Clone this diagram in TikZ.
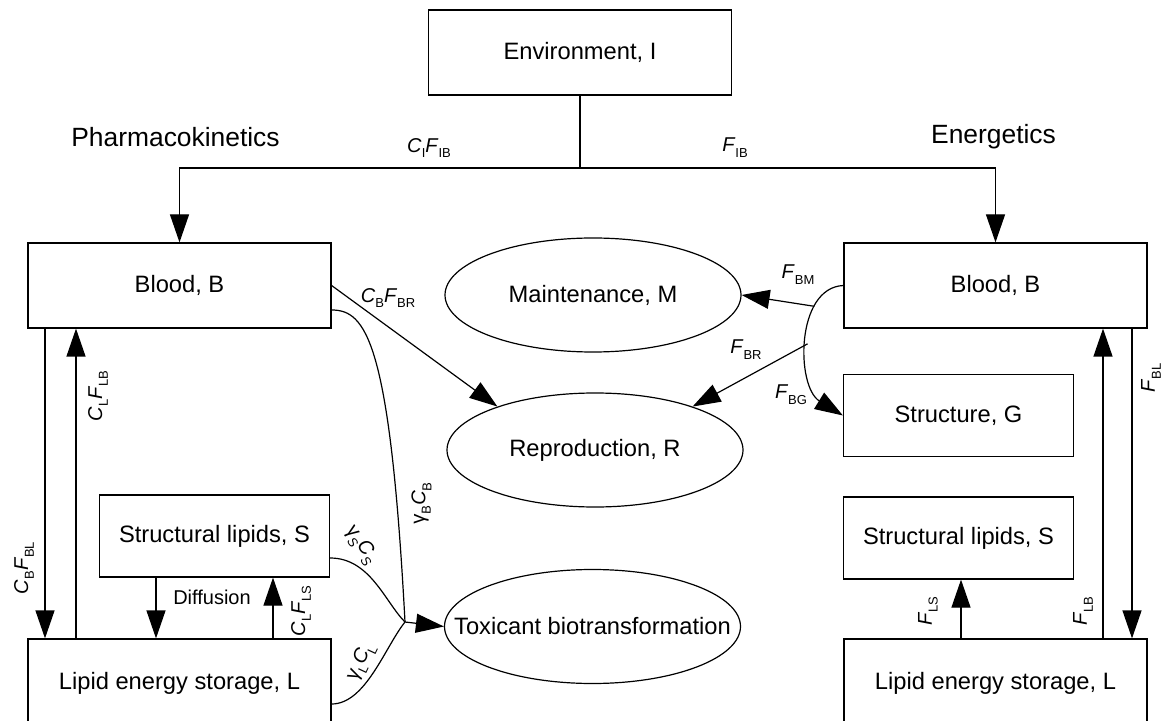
\documentclass[tikz,border=0pt]{standalone}
\usepackage{fontspec}
\setmainfont{Liberation Sans}
\usetikzlibrary{shapes.geometric, arrows.meta}

\newcommand{\sbs}[1]{\raisebox{-0.55ex}{\fontsize{6.5}{7}\selectfont #1}}
\newcommand{\proc}[1]{\makebox[0pt][c]{#1}}

\begin{document}
\begin{tikzpicture}[x=0.5pt, y=-0.5pt, line width=0.6pt,
		>={Triangle[length=14pt,width=9.5pt]}]
		\tikzstyle{pool}=[draw, minimum width=151.5pt, minimum height=42.5pt,
							inner sep=0pt, font=\fontsize{11.85}{14}\selectfont]
		\tikzstyle{subpool}=[pool, minimum width=115pt, minimum height=41pt]
		\tikzstyle{process}=[ellipse, draw, minimum width=148pt, minimum height=57pt,
							inner sep=0pt, font=\fontsize{11.85}{14}\selectfont]
		\tikzstyle{flux}=[inner sep=1pt, font=\fontsize{10}{12}\selectfont]
		\tikzstyle{heading}=[font=\fontsize{13.2}{15}\selectfont]

		\path[use as bounding box, clip] (0,0) rectangle (1161,721);

		% environment
		\node[pool] (env) at (580,52.5) {Environment, I};
		\node[heading] (pk) at (175.5,137) {Pharmacokinetics};
		\node[heading] (en) at (993.5,137) {Energetics};

		% pharmacokinetics
		\node[pool] (bloodP) at (179.5,285.5) {Blood, B};
		\node[subpool] (slipP) at (214.5,536) {Structural lipids, S};
		\node[pool, minimum height=44pt] (lipP) at (179.5,683) {Lipid energy storage, L};

		% energetics
		\node[pool] (bloodE) at (995.5,285.5) {Blood, B};
		\node[subpool] (structG) at (958.5,415.5) {Structure, G};
		\node[subpool] (slipE) at (958.5,538) {Structural lipids, S};
		\node[pool, minimum height=44pt] (lipE) at (995.5,683) {Lipid energy storage, L};

		% processes
		\node[process] (maint) at (593,295) {\proc{Maintenance, M}};
		\node[process] (repro) at (595,450) {\proc{Reproduction, R}};
		\node[process] (tox) at (592.5,626.5) {\proc{Toxicant biotransformation}};

		% lanes
		\foreach \name/\x in {bl/45, lb/76, df/156, ls/273, els/961, elb/1103, ebl/1132}
			\coordinate (\name) at (\x,0);
		\foreach \name/\y in {gb/310, gs/558, gl/704}
			\coordinate (\name) at (0,\y);
		\coordinate (split) at (580,168);
		\coordinate (mrg) at (405,622);

		% uptake
		\draw (env.south) -- (split);
		\draw [->] (split) -| (bloodP.north);
		\draw [->] (split) -| (bloodE.north);
		\node[flux] (ciF) at (429,148) {\textit{C}\sbs{I}\textit{F}\sbs{IB}};
		\node[flux] (eiF) at (735,148) {\textit{F}\sbs{IB}};

		% pharmacokinetic fluxes
		\draw [->] (bloodP.south -| bl) -- (lipP.north -| bl);
		\draw [->] (lipP.north -| lb) -- (bloodP.south -| lb);
		\draw [->] (slipP.south -| df) -- (lipP.north -| df);
		\draw [->] (lipP.north -| ls) -- (slipP.south -| ls);
		\draw [->] (bloodP.east) -- (repro.156);
		\draw (bloodP.east |- gb) .. controls +(34,0) and +(-15,-282) .. (mrg);
		\draw (slipP.east |- gs) .. controls +(40,0) and +(-20,-20) .. (mrg);
		\draw (lipP.east |- gl) .. controls +(34,0) and +(-20,25) .. (mrg);
		\draw [->] (mrg) -- (tox.west);

		\node[flux, rotate=90] (blF) at (24,568) {\textit{C}\sbs{B}\textit{F}\sbs{BL}};
		\node[flux, rotate=90] (lbF) at (98,396) {\textit{C}\sbs{L}\textit{F}\sbs{LB}};
		\node[flux, rotate=90] (lsF) at (301,611) {\textit{C}\sbs{L}\textit{F}\sbs{LS}};
		\node[flux] (diff) at (212,597) {Diffusion};
		\node[flux] (brF) at (388,298) {\textit{C}\sbs{B}\textit{F}\sbs{BR}};
		\node[flux, rotate=88] (gbF) at (421,503) {γ\sbs{B}\textit{C}\sbs{B}};
		\node[flux, rotate=-55] (gsF) at (361,545) {γ\sbs{\textit{S}}\textit{C}\sbs{\textit{S}}};
		\node[flux, rotate=65] (glF) at (361,662) {γ\sbs{L}\textit{C}\sbs{L}};

		% energetic fluxes
		\draw [->] (bloodE.west) .. controls +(-48,2) and +(-47,-29) .. (structG.west)
			coordinate[pos=0.28] (bm) coordinate[pos=0.52] (br);
		\draw [->] (bm) -- (maint.east);
		\draw [->] (br) -- (repro.24);
		\draw [->] (lipE.north -| els) -- (slipE.south -| els);
		\draw [->] (lipE.north -| elb) -- (bloodE.south -| elb);
		\draw [->] (bloodE.south -| ebl) -- (lipE.north -| ebl);

		\node[flux] (bmF) at (798,275) {\textit{F}\sbs{BM}};
		\node[flux] (ebrF) at (746,350) {\textit{F}\sbs{BR}};
		\node[flux] (bgF) at (791,395) {\textit{F}\sbs{BG}};
		\node[flux, rotate=90] (eblF) at (1151,378) {\textit{F}\sbs{BL}};
		\node[flux, rotate=90] (elbF) at (1083,611) {\textit{F}\sbs{LB}};
		\node[flux, rotate=90] (elsF) at (928,611) {\textit{F}\sbs{LS}};
\end{tikzpicture}
\end{document}
